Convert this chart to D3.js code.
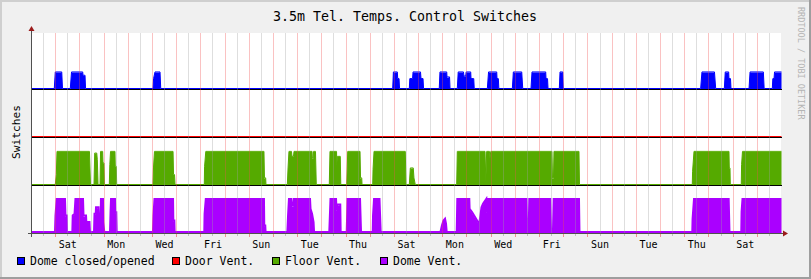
<!DOCTYPE html>
<html><head><meta charset="utf-8">
<script src="https://cdn.jsdelivr.net/npm/d3@7"></script>
<style>html,body{margin:0;padding:0;background:#f0f0f0;} svg{display:block;}</style>
</head><body><svg id="c" width="811" height="279"></svg>
<script>
const title = "3.5m Tel. Temps. Control Switches";
const yLabel = "Switches";
const watermark = "RRDTOOL / TOBI OETIKER";
const totalHours = 744; // 31 days, starting Friday 00:00
const dayLabels = ["Sat","Mon","Wed","Fri","Sun","Tue","Thu","Sat","Mon","Wed","Fri","Sun","Tue","Thu","Sat"];
const seriesNames = ["Dome closed/opened","Door Vent.","Floor Vent.","Dome Vent."];
const seriesColors = ["#0000ff","#ff0000","#55aa00","#aa00ff"];

// [hour since start, switch fraction 0..1]
const domeOpen = [[0,0],
[22.6,0],[23.6,1],[30.0,1],[30.75,0],
[38.5,0],[39.7,1],[50.8,1],[51.1,0.8],[53.1,0.8],[53.6,0],
[120.5,0],[121.1,0.6],[122.5,1],[127.5,1],[128.2,0],
[358.3,0],[359.0,1],[362.9,1],[363.3,0.6],[364.6,0.6],[365.1,0],
[374.8,0],[375.3,0.6],[378.0,0.6],[378.5,1],[385.9,1],[386.4,0.6],[388.4,0.6],[388.9,0],
[404.5,0],[405.2,1],[411.9,1],[412.2,0.7],[414.7,0.7],[415.2,0],
[422.4,0],[423.3,1],[428.5,1],[429.0,0.75],[430.7,0.75],[431.2,1],[435.7,1],[436.0,0.6],[438.7,0.6],[439.2,0],
[452.2,0],[453.4,1],[461.5,1],[461.8,0.6],[463.1,0.6],[463.6,0],
[477.0,0],[478.0,1],[486.3,1],[487.3,0],
[495.5,0],[496.5,1],[510.1,1],[510.4,0.6],[511.9,0.6],[512.4,0],
[523.6,0],[524.3,1],[527.0,1],[527.5,0],
[663.8,0],[665.1,1],[677.5,1],[678.7,0],
[687.3,0],[688.2,1],[691.6,1],[691.9,0.6],[693.4,0.6],[693.9,0],
[711.8,0],[712.8,1],[726.0,1],[726.8,0],
[734.9,0],[735.4,0.6],[736.6,0.6],[737.1,1],[744,1]];

const doorVent = [[0,0],[744,0]];

const floorVent = [[0,0],
[23.6,0],[24.6,0.3],[25.3,1],[57.5,1],[58.5,0],
[62.0,0],[62.7,0.95],[64.7,0.95],[65.3,0.75],[66.0,0],
[68.0,0],[68.5,1],[70.6,1],[70.9,0.65],[71.9,0.65],[72.3,0],
[77.2,0],[77.7,0.6],[78.4,1],[82.8,1],[83.1,0.55],[84.1,0.55],[84.5,0],
[120.5,0],[121.0,0.5],[122.0,1],[140.4,1],[140.9,0.3],[141.9,0.3],[142.4,0],
[171.4,0],[171.7,0.55],[172.9,1],[230.6,1],[231.1,0.2],[232.3,0.2],[232.6,0],
[253.8,0],[254.5,0.5],[255.4,1],[257.9,1],[258.4,0.85],[259.9,0.85],[260.4,1],[278.3,1],[278.6,0.8],[279.5,0.8],[279.8,1],[281.7,1],[282.5,0],
[295.4,0],[296.1,1],[302.6,1],[302.9,0.6],[303.4,0.85],[306.3,0.85],[306.8,0],
[312.7,0],[313.7,1],[325.9,1],[326.4,0.2],[327.6,0.2],[327.9,0],
[338.5,0],[338.8,0.45],[339.8,1],[370.8,1],[371.5,0],
[374.8,0],[375.8,0.5],[378.7,0.5],[379.4,0.2],[380.7,0],
[421.8,0],[422.4,1],[449.9,1],[450.7,0.1],[451.5,1],[454.3,1],[454.8,0.8],[455.6,1],[516.3,1],[516.8,0.2],[517.8,0.2],[518.3,1],[543.1,1],[543.6,0],
[655.5,0],[655.8,0.4],[657.2,1],[691.9,1],[692.2,0.5],[692.9,0.5],[693.2,0],
[704.1,0],[704.4,0.6],[705.3,1],[744,1]];

const domeVent = [[0,0],
[23.3,0],[23.8,0.5],[25.0,1],[33.2,1],[33.7,0.5],[34.9,0.5],[35.2,0],
[40.5,0],[40.9,0.5],[42.7,0.55],[43.6,1],[51.1,1],[51.6,0.5],[54.1,0.5],[54.4,0.3],[57.5,0.3],[58.0,0],
[62.0,0],[62.5,0.55],[63.7,0.55],[64.0,0.75],[66.5,0.75],[67.3,0],
[68.4,0],[68.9,1],[70.9,1],[71.2,0.3],[72.2,0],
[77.9,0],[78.4,0.6],[78.9,1],[82.8,1],[83.1,0.6],[84.1,0.6],[84.5,0],
[120.5,0],[121.0,0.5],[122.0,1],[140.4,1],[140.7,0.35],[141.7,0.35],[142.0,0],
[171.4,0],[171.7,0.55],[172.9,1],[230.6,1],[230.9,0.2],[231.9,0.2],[232.2,0],
[253.8,0],[254.5,0.5],[255.4,1],[257.9,1],[258.4,0.8],[259.9,0.8],[260.4,1],[276.3,1],[276.8,0.7],[278.3,0.55],[279.8,0.3],[280.3,0],
[295.4,0],[296.6,1],[302.1,1],[302.6,0.65],[303.4,0.83],[306.3,0.83],[306.7,0],
[312.7,0],[313.5,1],[325.9,1],[326.9,0],
[338.5,0],[338.8,0.5],[339.8,1],[345.2,1],[346.4,0],
[405.7,0],[407.2,0.2],[408.7,0.35],[410.2,0.4],[411.2,0.25],[411.9,0],
[421.8,0],[422.4,1],[434.3,1],[434.6,0.7],[437.0,0.6],[440.0,0.45],[442.9,0.3],[444.4,0.3],[446.4,0.75],[447.9,0.85],[451.2,1],[451.7,0.6],[452.4,1],[491.0,1],[491.7,0.03],[493.2,0.03],[493.8,1],[514.6,1],[515.4,0.03],[517.3,0.03],[518.0,1],[543.1,1],[543.6,0],
[655.5,0],[655.8,0.4],[657.2,1],[691.6,1],[692.4,0],
[704.1,0],[704.4,0.6],[705.3,1],[744,1]];

// ---------- layout ----------
const W = 811, H = 279;
const PL = 31.5, PR = 781.5, PT = 33, PB = 233;
const FONT = "'DejaVu Sans Mono', monospace";
const svg = d3.select("#c");

const x = d3.scaleLinear().domain([0, totalHours]).range([PL, PR]);
const y = d3.scaleLinear().domain([0, 200/48]).range([PB, PT]);
const px = v => Math.floor(v) + 0.5;

// background & frame
svg.append("rect").attr("width", W).attr("height", H).attr("fill", "#f0f0f0");
svg.append("path").attr("d", `M1,${H} V1 H${W}`).attr("stroke", "#cfcfcf").attr("stroke-width", 2).attr("fill", "none");
svg.append("path").attr("d", `M0,${H-1} H${W-1} V0`).attr("stroke", "#9e9e9e").attr("stroke-width", 2).attr("fill", "none");

// plot area
svg.append("rect").attr("x", 31).attr("y", PT).attr("width", 750).attr("height", PB - PT).attr("fill", "#ffffff");

// series rows: offset (baseline) and height in y units
const rows = [
  {data: domeOpen,  off: 3, h: 0.345, color: seriesColors[0], lw: 1},
  {data: doorVent,  off: 2, h: 0.69,  color: seriesColors[1], lw: 1},
  {data: floorVent, off: 1, h: 0.69,  color: seriesColors[2], lw: 1},
  {data: domeVent,  off: 0, h: 0.69,  color: seriesColors[3], lw: 2}
];

const gData = svg.append("g");
rows.forEach(r => {
  const area = d3.area()
    .x(d => x(d[0]))
    .y0(y(r.off))
    .y1(d => y(r.off + d[1] * r.h));
  gData.append("path").datum(r.data).attr("d", area).attr("fill", r.color);
  const line = d3.line()
    .x(d => x(d[0]))
    .y(d => y(r.off + d[1] * r.h) - r.lw / 2);
  gData.append("path").datum(r.data).attr("d", line)
    .attr("fill", "none").attr("stroke", r.color).attr("stroke-width", r.lw);
});

// black rules at baselines
[1, 2, 3].forEach(o => {
  svg.append("line").attr("x1", 31).attr("x2", 782).attr("y1", y(o) + 0.5).attr("y2", y(o) + 0.5)
    .attr("stroke", "#000").attr("stroke-width", 1);
});

// grid (drawn on top, translucent)
const minorHours = d3.range(12, totalHours, 24);
const majorHours = d3.range(24, totalHours, 24);
const gGrid = svg.append("g");
minorHours.forEach(h => {
  const xx = px(x(h));
  gGrid.append("line").attr("x1", xx).attr("x2", xx).attr("y1", PT).attr("y2", PB)
    .attr("stroke", "rgba(160,160,160,0.35)").attr("stroke-width", 1);
  gGrid.append("line").attr("x1", xx).attr("x2", xx).attr("y1", PB + 1).attr("y2", PB + 3)
    .attr("stroke", "rgba(160,160,160,0.6)").attr("stroke-width", 1);
});
majorHours.forEach(h => {
  const xx = px(x(h));
  gGrid.append("line").attr("x1", xx).attr("x2", xx).attr("y1", PT).attr("y2", PB)
    .attr("stroke", "rgba(240,80,80,0.35)").attr("stroke-width", 1);
  gGrid.append("line").attr("x1", xx).attr("x2", xx).attr("y1", PB + 1).attr("y2", PB + 4)
    .attr("stroke", "rgba(240,80,80,0.6)").attr("stroke-width", 1);
});

// axes
const axisCol = "#505050", arrowCol = "#9b1b1b";
svg.append("line").attr("x1", 31.5).attr("x2", 31.5).attr("y1", 237).attr("y2", 29).attr("stroke", axisCol);
svg.append("line").attr("x1", 28).attr("x2", 784).attr("y1", PB + 0.5).attr("y2", PB + 0.5).attr("stroke", axisCol);
svg.append("path").attr("d", "M28.5,31 L31.5,26 L34.5,31 Z").attr("fill", arrowCol);
svg.append("path").attr("d", "M783,230.5 L788,233.5 L783,236.5 Z").attr("fill", arrowCol);

// x labels at noon of every second day starting Saturday
const labelHours = d3.range(36, totalHours, 48);
svg.append("g").selectAll("text").data(dayLabels).join("text")
  .attr("x", (d, i) => x(labelHours[i]))
  .attr("y", 248)
  .attr("text-anchor", "middle")
  .attr("font-family", FONT).attr("font-size", 10).attr("fill", "#000")
  .text(d => d);

// title
svg.append("text").attr("x", 405).attr("y", 21).attr("text-anchor", "middle")
  .attr("font-family", FONT).attr("font-size", 13.3).attr("fill", "#000").text(title);

// y label
svg.append("text").attr("transform", "translate(19.5,132) rotate(-90)")
  .attr("text-anchor", "middle").attr("font-family", FONT).attr("font-size", 11.2)
  .attr("fill", "#000").text(yLabel);

// watermark
svg.append("text").attr("transform", "translate(798,7) rotate(90)")
  .attr("text-anchor", "start").attr("font-family", FONT).attr("font-size", 8.5)
  .attr("fill", "#b4b4b4").text(watermark);

// legend
const legendX = [17, 172, 272, 380];
const lg = svg.append("g");
seriesNames.forEach((n, i) => {
  lg.append("rect").attr("x", legendX[i] + 0.5).attr("y", 257.5).attr("width", 7).attr("height", 7)
    .attr("fill", seriesColors[i]).attr("stroke", "#000").attr("stroke-width", 1);
  lg.append("text").attr("x", legendX[i] + 13).attr("y", 265)
    .attr("font-family", FONT).attr("font-size", 11.5).attr("fill", "#000").text(n);
});
</script></body></html>
